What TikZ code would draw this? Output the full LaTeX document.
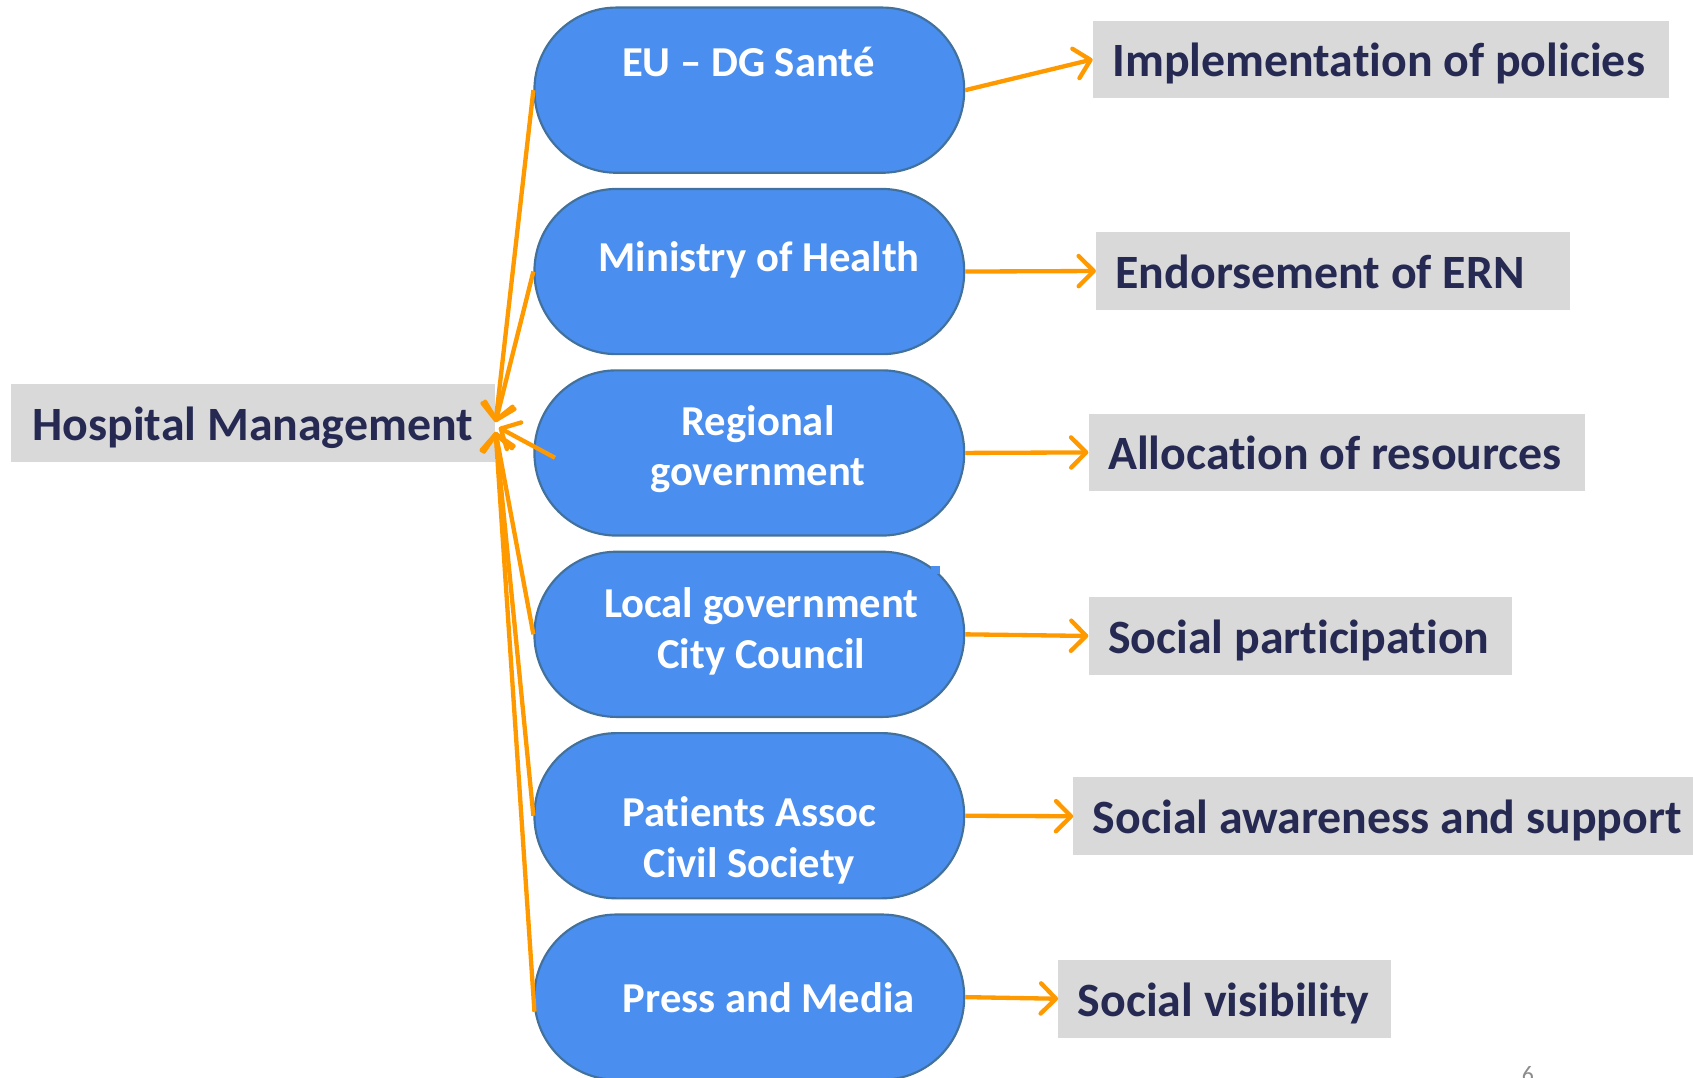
\documentclass[tikz,border=0pt]{standalone}
\usepackage{fontspec}
\setmainfont{Carlito}[Ligatures=NoCommon]
\usetikzlibrary{arrows.meta}
\definecolor{pillblue}{HTML}{4A8EEF}
\definecolor{pillborder}{HTML}{41719C}
\definecolor{boxgray}{HTML}{D9D9D9}
\definecolor{navytext}{HTML}{262A53}
\definecolor{arroworange}{HTML}{FF9900}
\definecolor{pagegray}{HTML}{8C8C8C}
\begin{document}
\begin{tikzpicture}[x=1pt,y=-1pt,
  pill/.style={draw=pillborder,line width=2pt,fill=pillblue,rounded corners=76pt,minimum width=398pt,minimum height=153pt,inner sep=0pt},
  pilltext/.style={text=white,font=\fontsize{39.5}{47}\selectfont\bfseries,align=center,inner sep=0pt},
  graybox/.style={fill=boxgray,text=navytext,font=\fontsize{44.3}{53}\selectfont\bfseries,minimum height=72pt,inner xsep=18pt,inner ysep=0pt,text height=36pt,text depth=4pt,anchor=west},
  link/.style={draw=arroworange,line width=4pt,-{Straight Barb[length=14pt,width=28pt,round]}}
]
\useasboundingbox (0,0) rectangle (1568,998);

% pills
\node[pill] (p1) at (694,83.5) {};
\node[pill] (p2) at (694,251.5) {};
\node[pill] (p3) at (694,419.5) {};
\node[pill] (p4) at (694,587.5) {};
\fill[pillblue] (862,524) rectangle (871,532);
\node[pill] (p5) at (694,755.5) {};
\node[pill] (p6) at (694,923.5) {};

\node[pilltext] (t1) at (693,57) {EU – DG Santé};
\node[pilltext] (t2) at (703,241) {Ministry of Health};
\node[pilltext] (t3) at (702,416) {Regional\\government};
\node[pilltext] (t4) at (705,585) {Local government\\City Council};
\node[pilltext] (t5) at (694,778) {Patients Assoc\\Civil Society};
\node[pilltext] (t6) at (712,924) {Press and Media};

% gray boxes
\node[graybox,anchor=center,minimum width=448pt] (hm) at (234,392) {Hospital Management};
\node[graybox] (b1) at (1012,55) {\makebox[498pt][l]{Implementation of policies}};
\node[graybox] (b2) at (1015,251) {\makebox[403pt][l]{Endorsement of ERN}};
\node[graybox] (b3) at (1008,419) {\makebox[424pt][l]{Allocation of resources}};
\node[graybox] (b4) at (1008,589) {\makebox[356pt][l]{Social participation}};
\node[graybox] (b5) at (994,756) {\makebox[556pt][l]{Social awareness and support}};
\node[graybox] (b6) at (980,925) {\makebox[272pt][l]{Social visibility}};

% right arrows
\draw[link] (p1.east) -- (b1.west);
\draw[link] (p2.east) -- (b2.west);
\draw[link] (p3.east) -- (b3.west);
\draw[link] (p4.east) -- (b4.west);
\draw[link] (p5.east) -- (b5.west);
\draw[link] (p6.east) -- (b6.west);

% left arrows
\coordinate (tipA) at (459,391);
\coordinate (tipB) at (462,396);
\coordinate (tipC) at (459,400);
\coordinate (s3) at (514,424);
\coordinate (s6) at (495,937);
\draw[link] (p1.west) -- (tipA);
\draw[link] (p2.west) -- (tipA);
\draw[link] (s3) -- (tipB);
\draw[link] (p4.west) -- (tipC);
\draw[link] (p5.west) -- (tipC);
\draw[link] (s6) -- (tipC);

\node[text=pagegray,font=\fontsize{22}{26}\selectfont,anchor=base,inner sep=0pt] (pg) at (1415,1003) {6};
\end{tikzpicture}
\end{document}
